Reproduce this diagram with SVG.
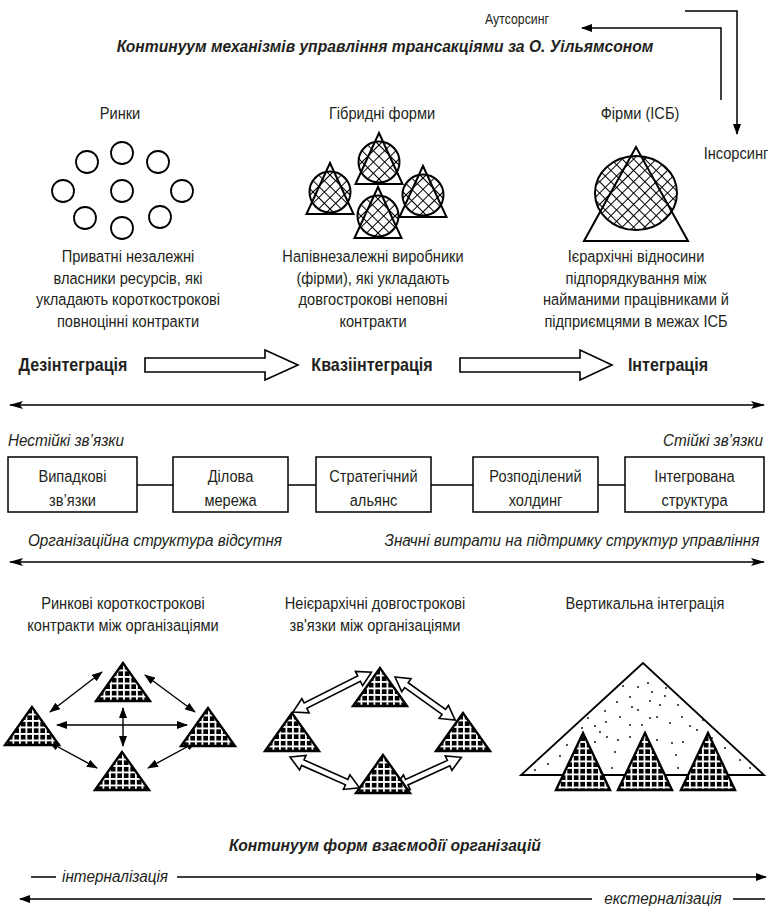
<svg xmlns="http://www.w3.org/2000/svg" width="771" height="906" viewBox="0 0 771 906">
<style>
text{font-family:"Liberation Sans",Arial,sans-serif;fill:#231f20;font-size:17px}
.c{text-anchor:middle}
.s{text-anchor:start}
.e{text-anchor:end}
.i{font-style:italic}
.b{font-weight:bold;font-size:17.5px}
.bi{font-weight:bold;font-style:italic}
.ln{fill:none;stroke:#000;stroke-width:1.5}
.bx{fill:#fff;stroke:#000;stroke-width:1.5}
.ho{fill:#fff;stroke:#000;stroke-width:1.6;stroke-linejoin:miter}
.tri{fill:url(#chk);stroke:#000;stroke-width:2.4;stroke-linejoin:miter}
.dot{fill:#000}
</style>
<defs>
  <pattern id="xh" width="8" height="8" patternUnits="userSpaceOnUse" patternTransform="rotate(45)">
    <rect width="8" height="8" fill="#fff"/>
    <path d="M0 0.5H8M0.5 0V8" stroke="#000" stroke-width="1"/>
  </pattern>
  <pattern id="chk" width="6.5" height="6.5" patternUnits="userSpaceOnUse">
    <rect width="6.5" height="6.5" fill="#000"/>
    <path d="M0 0.9H6.5M0.9 0V6.5" stroke="#fff" stroke-width="1.8"/>
  </pattern>
  <marker id="al" viewBox="0 0 14 8" refX="13" refY="4" markerWidth="14" markerHeight="8" markerUnits="userSpaceOnUse" orient="auto-start-reverse">
    <path d="M0 0L14 4L0 8L3 4Z" fill="#000"/>
  </marker>
  <marker id="af" viewBox="0 0 11 8" refX="10" refY="4" markerWidth="11" markerHeight="8" markerUnits="userSpaceOnUse" orient="auto-start-reverse">
    <path d="M0 0L11 4L0 8Z" fill="#000"/>
  </marker>
  <g id="hyb">
    <circle cx="0" cy="29" r="20.5" fill="url(#xh)" stroke="#000" stroke-width="2"/>
    <path d="M0 0L-23.5 51H23.5Z" fill="none" stroke="#000" stroke-width="2" stroke-linejoin="miter"/>
  </g>
  <path id="ttri" d="M0 0L-27 38H27Z"/>
</defs>

<!-- heading and sourcing arrows -->
<g id="heading">
  <text class="c" style="font-size:15px" transform="translate(517 24) scale(0.82 1)">Аутсорсинг</text>
  <text class="c bi" transform="translate(385 52) scale(0.92 1)">Континуум механізмів управління трансакціями за О. Уільямсоном</text>
  <text class="c" transform="translate(736 159) scale(0.86 1)">Інсорсинг</text>
</g>

<g id="connectors">
  <path class="ln" d="M721 100V28H582" marker-end="url(#af)"/>
  <path class="ln" d="M685 11H737V134" marker-end="url(#af)"/>
  <path class="ln" d="M10 405H764" marker-start="url(#al)" marker-end="url(#al)"/>
  <path class="ln" d="M10 562H764" marker-start="url(#al)" marker-end="url(#al)"/>
  <path class="ln" d="M137 485H173M288 485H316M431 485H473M598 485H625"/>
  <!-- market contracts -->
  <g class="ln" style="stroke-width:1.4">
    <path d="M50 712L102 672" marker-start="url(#af)" marker-end="url(#af)"/>
    <path d="M145 675L195 712" marker-start="url(#af)" marker-end="url(#af)"/>
    <path d="M57 725H187" marker-start="url(#af)" marker-end="url(#af)"/>
    <path d="M123 708V746" marker-start="url(#af)" marker-end="url(#af)"/>
    <path d="M49 742L97 768" marker-start="url(#af)" marker-end="url(#af)"/>
    <path d="M148 768L196 742" marker-start="url(#af)" marker-end="url(#af)"/>
  </g>
  <!-- long-term links -->
  <polygon class="ho" transform="translate(293 712) rotate(-26.85)" points="0,0 14,-8 14,-3 74,-3 74,-8 88,0 74,8 74,3 14,3 14,8"/>
  <polygon class="ho" transform="translate(395 677) rotate(35.6)" points="0,0 14,-8 14,-3 60,-3 60,-8 74,0 60,8 60,3 14,3 14,8"/>
  <polygon class="ho" transform="translate(290 757) rotate(23.9)" points="0,0 14,-8 14,-3 62,-3 62,-8 76,0 62,8 62,3 14,3 14,8"/>
  <polygon class="ho" transform="translate(394 788) rotate(-24.5)" points="0,0 14,-8 14,-3 60,-3 60,-8 74,0 60,8 60,3 14,3 14,8"/>
  <!-- internalisation / externalisation -->
  <path class="ln" d="M31 877H56M177 877H766" marker-end="url(#af)"/>
  <path class="ln" d="M592 899H20" marker-end="url(#af)"/>
  <path class="ln" d="M733 899H765"/>
</g>

<!-- markets -->
<g id="markets">
  <text class="c" transform="translate(120 119) scale(0.86 1)">Ринки</text>
  <g fill="none" stroke="#000" stroke-width="1.8">
    <circle cx="122" cy="153" r="11"/>
    <circle cx="87" cy="162" r="11"/>
    <circle cx="158" cy="162" r="11"/>
    <circle cx="63" cy="191" r="11"/>
    <circle cx="122" cy="191" r="11"/>
    <circle cx="182" cy="191" r="11"/>
    <circle cx="85" cy="218" r="11"/>
    <circle cx="160" cy="217" r="11"/>
    <circle cx="122" cy="228" r="11"/>
  </g>
  <g class="c">
    <text transform="translate(128 262) scale(0.86 1)">Приватні незалежні</text>
    <text transform="translate(128 284) scale(0.86 1)">власники ресурсів, які</text>
    <text transform="translate(128 305) scale(0.86 1)">укладають короткострокові</text>
    <text transform="translate(128 327) scale(0.86 1)">повноцінні контракти</text>
  </g>
</g>

<!-- hybrid forms -->
<g id="hybrid">
  <text class="c" transform="translate(382 119) scale(0.86 1)">Гібридні форми</text>
  <use href="#hyb" x="379" y="133"/>
  <use href="#hyb" x="330" y="163"/>
  <use href="#hyb" x="423" y="166"/>
  <use href="#hyb" x="378" y="187"/>
  <g class="c">
    <text transform="translate(373 262) scale(0.86 1)">Напівнезалежні виробники</text>
    <text transform="translate(373 284) scale(0.86 1)">(фірми), які укладають</text>
    <text transform="translate(373 305) scale(0.86 1)">довгострокові неповні</text>
    <text transform="translate(373 327) scale(0.86 1)">контракти</text>
  </g>
</g>

<!-- firms -->
<g id="firms">
  <text class="c" transform="translate(640 119) scale(0.86 1)">Фірми (ІСБ)</text>
  <ellipse cx="636" cy="193" rx="41" ry="37" fill="url(#xh)" stroke="#000" stroke-width="2"/>
  <path d="M636 147L584 241H688Z" fill="none" stroke="#000" stroke-width="2"/>
  <g class="c">
    <text transform="translate(636 262) scale(0.86 1)">Ієрархічні відносини</text>
    <text transform="translate(636 284) scale(0.86 1)">підпорядкування між</text>
    <text transform="translate(636 305) scale(0.86 1)">найманими працівниками й</text>
    <text transform="translate(636 327) scale(0.86 1)">підприємцями в межах ІСБ</text>
  </g>
</g>

<!-- integration scale -->
<g id="stages">
  <text class="c b" transform="translate(73 371) scale(0.92 1)">Дезінтеграція</text>
  <text class="c b" transform="translate(372 371) scale(0.92 1)">Квазіінтеграція</text>
  <text class="c b" transform="translate(668 371) scale(0.92 1)">Інтеграція</text>
  <polygon class="ho" points="145,358 265,358 265,350 298,365 265,380 265,372 145,372"/>
  <polygon class="ho" points="460,358 580,358 580,350 612,365 580,380 580,372 460,372"/>
  <text class="s i" transform="translate(8 446) scale(0.9 1)">Нестійкі зв’язки</text>
  <text class="e i" transform="translate(763 446) scale(0.9 1)">Стійкі зв’язки</text>
</g>

<g id="box1">
  <rect class="bx" x="8" y="457" width="129" height="55"/>
  <text class="c" transform="translate(72.5 482) scale(0.86 1)">Випадкові</text>
  <text class="c" transform="translate(72.5 506) scale(0.86 1)">зв’язки</text>
</g>
<g id="box2">
  <rect class="bx" x="173" y="457" width="115" height="55"/>
  <text class="c" transform="translate(230.5 482) scale(0.86 1)">Ділова</text>
  <text class="c" transform="translate(230.5 506) scale(0.86 1)">мережа</text>
</g>
<g id="box3">
  <rect class="bx" x="316" y="457" width="115" height="55"/>
  <text class="c" transform="translate(373.5 482) scale(0.86 1)">Стратегічний</text>
  <text class="c" transform="translate(373.5 506) scale(0.86 1)">альянс</text>
</g>
<g id="box4">
  <rect class="bx" x="473" y="457" width="125" height="55"/>
  <text class="c" transform="translate(535.5 482) scale(0.86 1)">Розподілений</text>
  <text class="c" transform="translate(535.5 506) scale(0.86 1)">холдинг</text>
</g>
<g id="box5">
  <rect class="bx" x="625" y="457" width="139" height="55"/>
  <text class="c" transform="translate(694.5 482) scale(0.86 1)">Інтегрована</text>
  <text class="c" transform="translate(694.5 506) scale(0.86 1)">структура</text>
</g>

<g id="costs">
  <text class="c i" transform="translate(155 546) scale(0.9 1)">Організаційна структура відсутня</text>
  <text class="c i" transform="translate(572 546) scale(0.9 1)">Значні витрати на підтримку структур управління</text>
</g>

<!-- market contracts between organisations -->
<g id="market-contracts">
  <text class="c" transform="translate(123 609) scale(0.86 1)">Ринкові короткострокові</text>
  <text class="c" transform="translate(123 631) scale(0.86 1)">контракти між організаціями</text>
  <use href="#ttri" class="tri" x="123" y="663"/>
  <use href="#ttri" class="tri" x="32" y="707"/>
  <use href="#ttri" class="tri" x="208" y="708"/>
  <use href="#ttri" class="tri" x="122" y="752"/>
</g>

<!-- non-hierarchical links -->
<g id="network-links">
  <text class="c" transform="translate(375 609) scale(0.86 1)">Неієрархічні довгострокові</text>
  <text class="c" transform="translate(375 631) scale(0.86 1)">зв'язки між організаціями</text>
  <use href="#ttri" class="tri" x="380" y="668"/>
  <use href="#ttri" class="tri" x="292" y="713"/>
  <use href="#ttri" class="tri" x="463" y="713"/>
  <use href="#ttri" class="tri" x="383" y="755"/>
</g>

<!-- vertical integration -->
<g id="vertical">
  <text class="c" transform="translate(645 609) scale(0.86 1)">Вертикальна інтеграція</text>
  <path d="M643 663L521 775H764Z" fill="#fff" stroke="#000" stroke-width="1.8"/>
  <g class="dot">
    <circle cx="623" cy="686" r="0.9"/><circle cx="638" cy="687" r="0.9"/><circle cx="648" cy="683" r="0.9"/>
    <circle cx="652" cy="692" r="0.9"/><circle cx="630" cy="697" r="0.9"/><circle cx="665" cy="696" r="0.9"/>
    <circle cx="617" cy="702" r="0.9"/><circle cx="650" cy="701" r="0.9"/><circle cx="660" cy="705" r="0.9"/>
    <circle cx="605" cy="711" r="0.9"/><circle cx="632" cy="707" r="0.9"/><circle cx="638" cy="710" r="0.9"/>
    <circle cx="678" cy="705" r="0.9"/><circle cx="588" cy="718" r="0.9"/><circle cx="650" cy="718" r="0.9"/>
    <circle cx="657" cy="717" r="0.9"/><circle cx="682" cy="717" r="0.9"/><circle cx="620" cy="717" r="0.9"/>
    <circle cx="595" cy="726" r="0.9"/><circle cx="606" cy="722" r="0.9"/><circle cx="630" cy="725" r="0.9"/>
    <circle cx="642" cy="725" r="0.9"/><circle cx="670" cy="723" r="0.9"/><circle cx="690" cy="726" r="0.9"/>
    <circle cx="582" cy="728" r="0.9"/><circle cx="607" cy="737" r="0.9"/><circle cx="618" cy="740" r="0.9"/>
    <circle cx="630" cy="737" r="0.9"/><circle cx="657" cy="740" r="0.9"/><circle cx="672" cy="743" r="0.9"/>
    <circle cx="683" cy="742" r="0.9"/><circle cx="697" cy="730" r="0.9"/><circle cx="567" cy="745" r="0.9"/>
    <circle cx="595" cy="742" r="0.9"/><circle cx="712" cy="738" r="0.9"/><circle cx="725" cy="748" r="0.9"/>
    <circle cx="560" cy="756" r="0.9"/><circle cx="548" cy="764" r="0.9"/><circle cx="615" cy="752" r="0.9"/>
    <circle cx="676" cy="755" r="0.9"/><circle cx="740" cy="760" r="0.9"/><circle cx="750" cy="768" r="0.9"/>
    <circle cx="612" cy="768" r="0.9"/><circle cx="678" cy="768" r="0.9"/><circle cx="535" cy="770" r="0.9"/>
    <circle cx="666" cy="688" r="0.9"/><circle cx="600" cy="732" r="0.9"/><circle cx="703" cy="720" r="0.9"/>
  </g>
  <path class="tri" d="M583 733L556 790H610Z"/>
  <path class="tri" d="M645 733L618 790H672Z"/>
  <path class="tri" d="M708 733L681 790H735Z"/>
</g>

<!-- continuum of interaction forms -->
<g id="interaction">
  <text class="c bi" transform="translate(385 851) scale(0.92 1)">Континуум форм взаємодії організацій</text>
  <text class="c i" transform="translate(115 882) scale(0.9 1)">інтерналізація</text>
  <text class="c i" transform="translate(663 904) scale(0.9 1)">екстерналізація</text>
</g>
</svg>
